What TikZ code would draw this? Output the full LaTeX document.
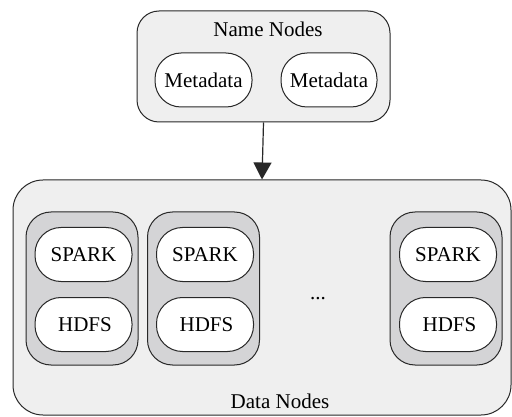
\documentclass[tikz,border=0pt]{standalone}
\usepackage{fontspec}
\setmainfont{Liberation Serif}
\usetikzlibrary{arrows.meta}
\definecolor{outerfill}{RGB}{239,239,239}
\definecolor{groupfill}{RGB}{212,212,214}
\definecolor{linec}{RGB}{40,40,40}
\begin{document}
\begin{tikzpicture}[x=1pt,y=-1pt,
  every node/.style={font=\fontsize{21}{25}\selectfont, inner sep=0pt},
  outerbox/.style={draw=linec, line width=1pt, fill=outerfill},
  groupbox/.style={draw=linec, line width=1pt, fill=groupfill, rounded corners=25pt, minimum width=112pt, minimum height=153pt},
  pill/.style={draw=linec, line width=1pt, fill=white, rounded corners=26pt, minimum width=97pt, minimum height=54pt},
  lbl/.style={}]
\useasboundingbox (0,0) rectangle (512,417);
% Name nodes
\node[outerbox, rounded corners=22pt, minimum width=253pt, minimum height=111pt] (name) at (263.5,66.5) {};
\node[lbl] (namelbl) at (268,29) {Name Nodes};
\node[pill] (meta1) at (203.5,80) {Metadata};
\node[pill, minimum width=96pt] (meta2) at (329,80) {Metadata};
% Data nodes
\node[outerbox, rounded corners=30pt, minimum width=498pt, minimum height=235pt] (data) at (262,297.5) {};
\node[lbl] (datalbl) at (280,401) {Data Nodes};
\node[groupbox] (g1) at (82,288.5) {};
\node[groupbox] (g2) at (203.5,288.5) {};
\node[groupbox] (g3) at (446,288.5) {};
\node[pill] (s1) at (83.5,254.5) {SPARK};
\node[pill] (h1) at (83.5,324.5) {\hspace{3pt}HDFS};
\node[pill] (s2) at (205,254.5) {SPARK};
\node[pill] (h2) at (205,324.5) {\hspace{3pt}HDFS};
\node[pill] (s3) at (448,254.5) {SPARK};
\node[pill] (h3) at (448,324.5) {\hspace{3pt}HDFS};
\node[lbl] (dots) at (318,299) {...};
% arrow
\draw[draw=linec, line width=1.2pt, -{Triangle[length=17pt,width=18pt]}] (name.south) -- (data.north);
\end{tikzpicture}
\end{document}
